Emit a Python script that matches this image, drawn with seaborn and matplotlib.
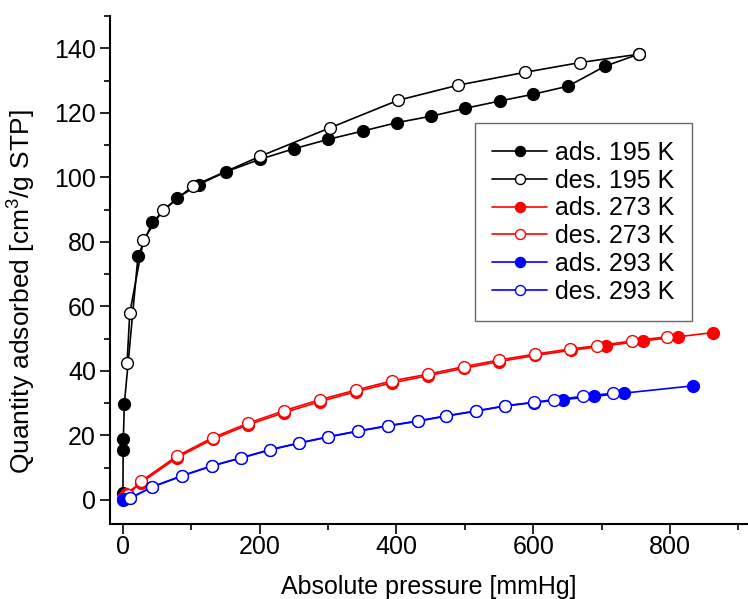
import numpy as np
import pandas as pd
import matplotlib
matplotlib.use("Agg")
import matplotlib.pyplot as plt
from matplotlib.ticker import MultipleLocator
import seaborn as sns

# Isotherm data
ads_195_p = [0, 0.3, 0.6, 2, 22, 43, 79, 111, 150, 200, 250, 300, 351, 401, 451, 500, 551, 600, 651, 705, 754]
ads_195_q = [2.2, 15.5, 18.9, 29.7, 75.6, 86.2, 93.6, 97.8, 101.7, 105.6, 108.9, 111.8, 114.4, 117.0, 119.0,
             121.4, 123.7, 125.8, 128.3, 134.5, 138.2]
des_195_p = [754, 668, 588, 490, 402, 303, 200, 102, 58, 30, 10, 6]
des_195_q = [138.2, 135.6, 132.6, 128.6, 123.9, 115.4, 106.5, 97.3, 89.8, 80.6, 58.0, 42.4]

ads_273_p = [0, 4, 27, 79, 131, 183, 236, 288, 341, 393, 446, 498, 550, 603, 655, 707, 760, 812, 863]
ads_273_q = [0.5, 1.9, 5.4, 13.1, 18.8, 23.3, 27.1, 30.5, 33.6, 36.3, 38.5, 40.8, 42.9, 44.8, 46.4,
             47.8, 49.3, 50.6, 51.9]
des_273_p = [796, 745, 693, 654, 602, 550, 498, 446, 393, 341, 288, 236, 183, 131, 79, 27, 8]
des_273_q = [50.6, 49.3, 47.8, 46.8, 45.2, 43.4, 41.3, 39.0, 36.9, 34.1, 31.1, 27.7, 23.8, 19.3, 13.6, 5.9, 1.5]

ads_293_p = [0, 1, 2, 10, 43, 86, 130, 173, 215, 258, 300, 344, 387, 431, 473, 516, 559, 601, 644, 689, 732, 834]
ads_293_q = [0.0, 0.2, 0.4, 0.5, 4.0, 7.4, 10.5, 13.0, 15.5, 17.6, 19.5, 21.3, 22.9, 24.4, 26.0, 27.5,
             29.1, 30.2, 31.1, 32.1, 33.1, 35.4]
des_293_p = [717, 673, 630, 601, 559, 516, 473, 431, 387, 344, 300, 258, 215, 173, 130, 86, 43, 10]
des_293_q = [33.1, 32.1, 31.1, 30.3, 29.2, 27.6, 26.1, 24.5, 23.0, 21.4, 19.6, 17.7, 15.6, 13.1, 10.6,
             7.5, 4.1, 0.5]

series = [
    ("ads. 195 K", ads_195_p, ads_195_q, "black", True),
    ("des. 195 K", des_195_p, des_195_q, "black", False),
    ("ads. 273 K", ads_273_p, ads_273_q, "#ff0000", True),
    ("des. 273 K", des_273_p, des_273_q, "#ff0000", False),
    ("ads. 293 K", ads_293_p, ads_293_q, "#0000ff", True),
    ("des. 293 K", des_293_p, des_293_q, "#0000ff", False),
]

sns.set_style("ticks")
plt.rcParams["font.family"] = ["Liberation Sans", "DejaVu Sans"]
plt.rcParams["mathtext.fontset"] = "custom"
plt.rcParams["mathtext.rm"] = "Liberation Sans"
plt.rcParams["text.color"] = "black"
plt.rcParams["axes.labelcolor"] = "black"
plt.rcParams["axes.edgecolor"] = "black"

fig = plt.figure(figsize=(7.48, 5.99), dpi=100)
ax = fig.add_axes([0.147, 0.125, 0.853, 0.848])

for label, p, q, color, filled in series:
    df = pd.DataFrame({"p": p, "q": q})
    sns.lineplot(data=df, x="p", y="q", ax=ax, sort=False, estimator=None,
                 color=color, lw=1.2, marker="o", markersize=8.5,
                 markerfacecolor=color if filled else "white",
                 markeredgecolor=color, markeredgewidth=1.0, label=label)

ax.set_xlim(-19, 914)
ax.set_ylim(-7.5, 150)
ax.xaxis.set_major_locator(MultipleLocator(200))
ax.xaxis.set_minor_locator(MultipleLocator(100))
ax.yaxis.set_major_locator(MultipleLocator(20))
ax.yaxis.set_minor_locator(MultipleLocator(10))
ax.set_xticks([0, 200, 400, 600, 800])
ax.set_yticks(np.arange(0, 141, 20))

for side in ["top", "right"]:
    ax.spines[side].set_visible(False)
for side in ["left", "bottom"]:
    ax.spines[side].set_linewidth(1.5)

ax.tick_params(axis="both", which="major", direction="out", length=7, width=1.2,
               labelsize=18, colors="black")
ax.tick_params(axis="y", which="major", pad=3)
ax.tick_params(axis="x", which="major", pad=1)
ax.tick_params(axis="both", which="minor", direction="out", length=4, width=1.2, colors="black")

ax.set_xlabel("Absolute pressure [mmHg]", fontsize=18, labelpad=11)
ax.set_ylabel("Quantity adsorbed [cm$^3$/g STP]", fontsize=19)
ax.yaxis.set_label_coords(-0.114, 0.457)

leg = ax.legend(loc="upper left", bbox_to_anchor=(0.572, 0.789), fontsize=18,
                frameon=True, fancybox=False, edgecolor="#444444",
                handlelength=2.2, handletextpad=0.3, borderpad=0.7,
                labelspacing=0.15, markerscale=0.85, borderaxespad=0)
leg.get_frame().set_linewidth(1.0)

fig.savefig("out.png", dpi=100)
